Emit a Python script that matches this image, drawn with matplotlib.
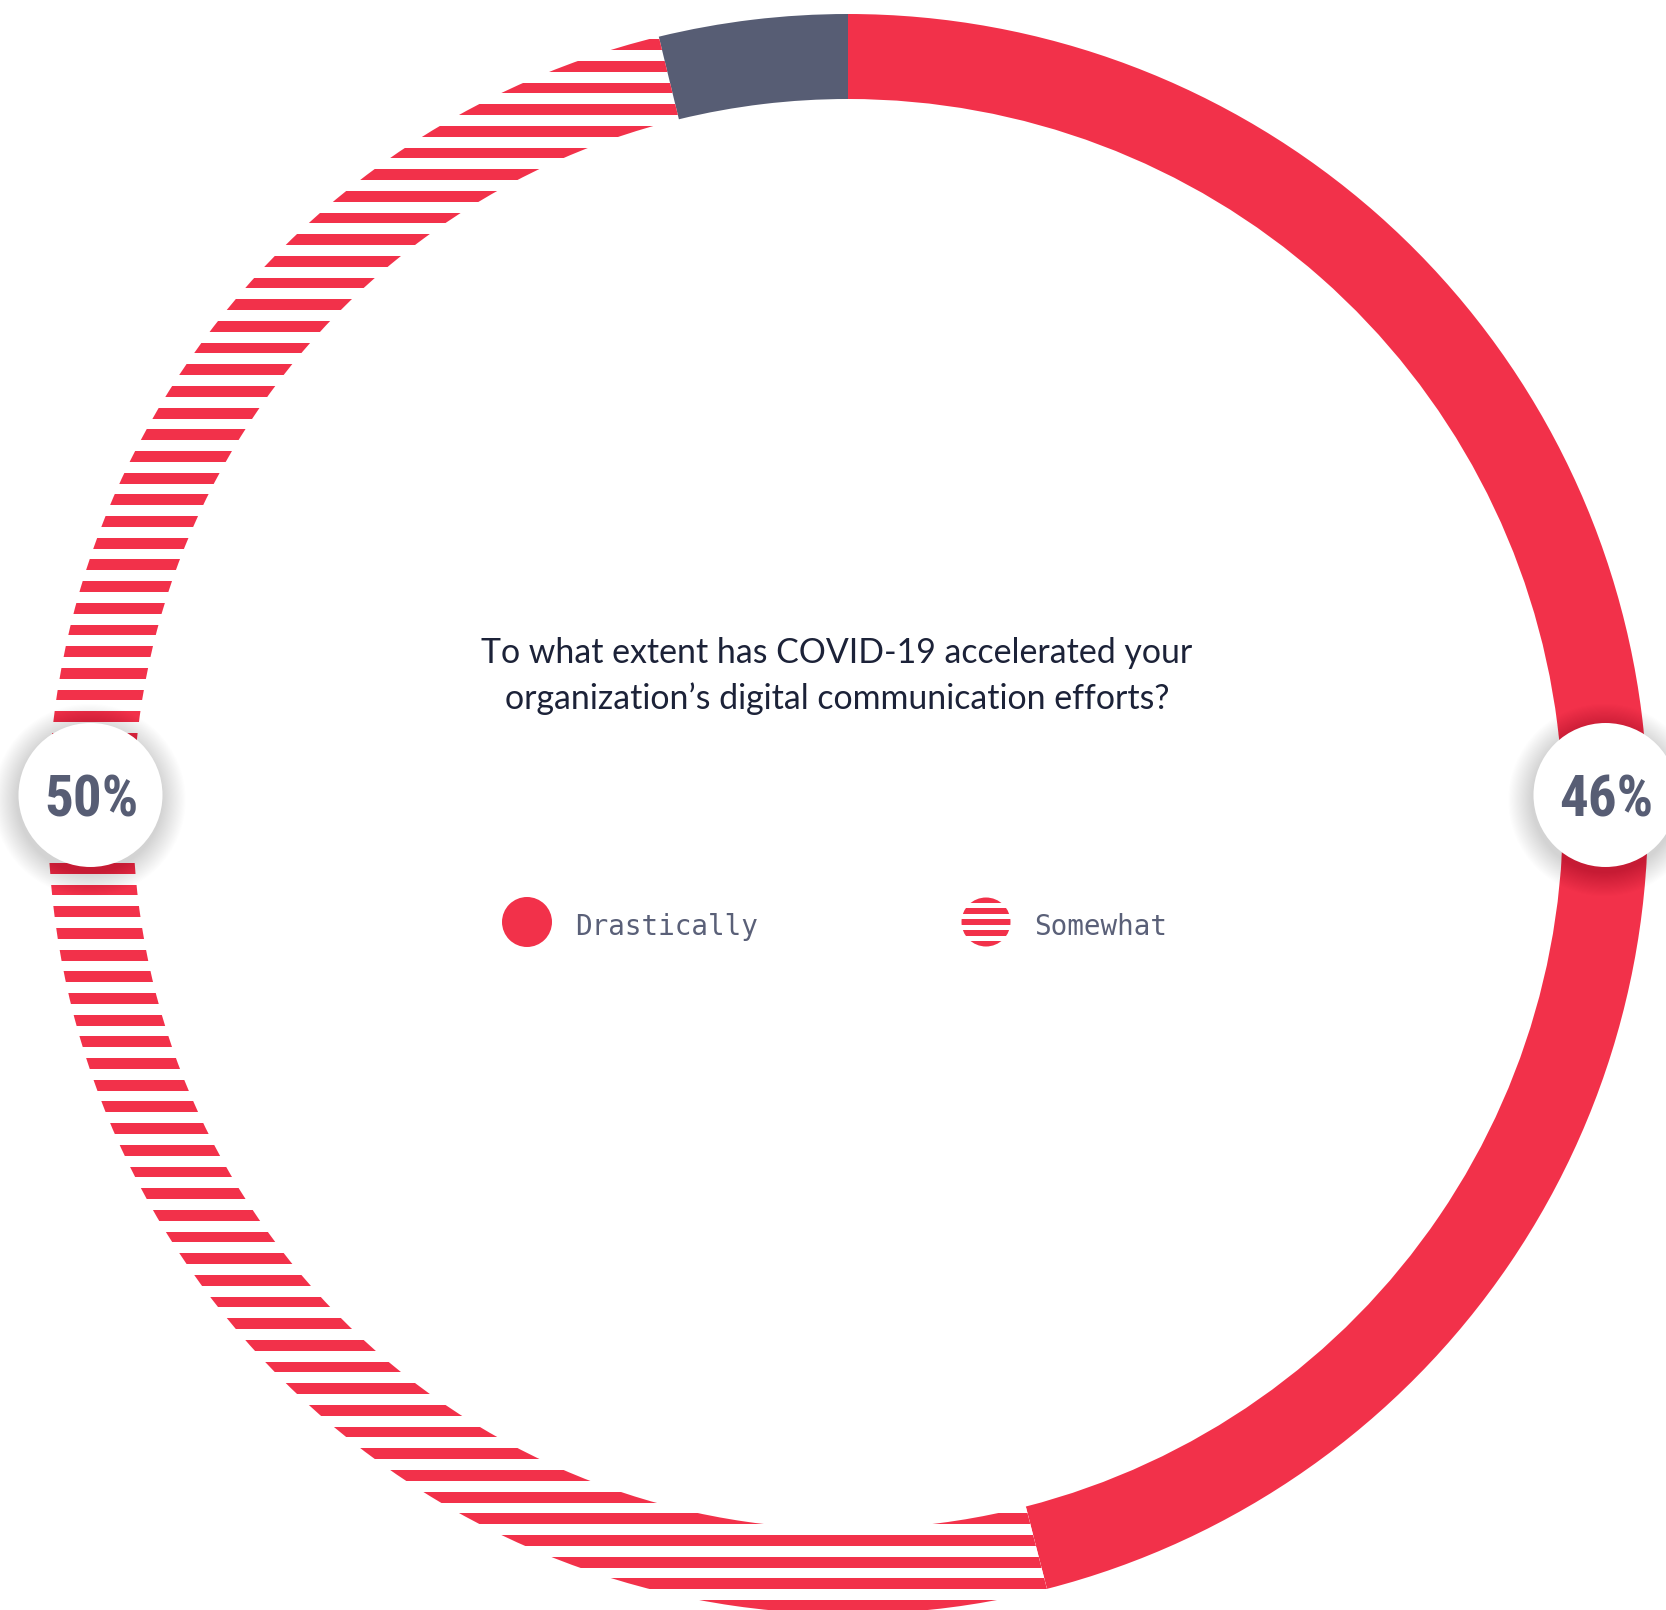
import numpy as np
import matplotlib
matplotlib.use("Agg")
import matplotlib.pyplot as plt
from matplotlib.patches import Circle, Rectangle
from matplotlib import font_manager as fm

# ---------------- data ----------------
categories = ["Drastically", "Somewhat", "Other"]
values = [46, 50.2, 3.8]
labeled = ["Drastically", "Somewhat"]
title = "To what extent has COVID-19 accelerated your\norganization\u2019s digital communication efforts?"

# ---------------- style ----------------
RED = "#f2314a"
SLATE = "#575d74"
TXT = "#1c2238"
LEG_TXT = "#5a6078"
W, H = 1666, 1610
CX, CY_IMG = 848, 814
R_OUT, RING_W = 800, 85
STRIPE_P, STRIPE_RED = 21.68, 10.8
STRIPE_Y0_IMG = 321.0


def Y(yimg):
    return H - yimg


def find_condensed():
    for fam in ["Roboto Condensed", "Liberation Sans Narrow", "DejaVu Sans Condensed"]:
        try:
            fm.findfont(fm.FontProperties(family=fam, weight="bold"), fallback_to_default=False)
            return dict(family=[fam], fontweight="bold"), 41
        except Exception:
            pass
    try:
        p = fm.findfont(fm.FontProperties(family="DejaVu Sans", weight="bold", stretch="condensed"))
        if "ondensed" in p:
            return dict(family=["DejaVu Sans"], fontweight="bold", fontstretch="condensed"), 40
    except Exception:
        pass
    return dict(family=["DejaVu Sans"], fontweight="bold"), 35


pct_font, pct_size = find_condensed()

fig = plt.figure(figsize=(W / 100, H / 100), dpi=100)
ax = fig.add_axes([0, 0, 1, 1])

colors = [RED, "white", SLATE]
wedges, _ = ax.pie(values, radius=R_OUT, center=(CX, Y(CY_IMG)), startangle=90,
                   counterclock=False, colors=colors,
                   wedgeprops=dict(width=RING_W, linewidth=0))

# stripes in the "Somewhat" wedge
some = wedges[categories.index("Somewhat")]
k = np.arange(-20, 80)
tops = STRIPE_Y0_IMG + k * STRIPE_P
for t in tops:
    rect = Rectangle((0, Y(t + STRIPE_RED)), W, STRIPE_RED, facecolor=RED,
                     edgecolor="none", zorder=2)
    ax.add_patch(rect)
    rect.set_clip_path(some)

# percentage badges
mid_r = R_OUT - RING_W / 2
badge_y = Y(795)
badge_r = 72
for cat, side in (("Somewhat", -1), ("Drastically", 1)):
    v = values[categories.index(cat)]
    bx = CX + side * mid_r
    for i in range(22, 0, -1):
        ax.add_patch(Circle((bx - 1, badge_y - 5), badge_r + i * 1.1,
                            facecolor="black", alpha=0.009, edgecolor="none", zorder=5))
    ax.add_patch(Circle((bx, badge_y), badge_r, facecolor="white", edgecolor="none", zorder=6))
    ax.text(bx + 1, badge_y, f"{v:.0f}%", ha="center", va="center_baseline", fontsize=pct_size,
            color=SLATE, zorder=7, **pct_font)

# title
ax.text(837, Y(676), title, ha="center", va="center", fontsize=24.4, family=["Lato", "DejaVu Sans"],
        color=TXT, linespacing=1.48, zorder=3)

# legend
leg_y = Y(922)
leg_x = [527, 986]
ax.add_patch(Circle((leg_x[0], leg_y), 25, facecolor=RED, edgecolor="none"))
mk = Circle((leg_x[1], leg_y), 24.5, facecolor="white", edgecolor="none")
ax.add_patch(mk)
for j in range(-3, 4):
    r = Rectangle((leg_x[1] - 30, leg_y + j * 11 - 2.75), 60, 5.5, facecolor=RED, edgecolor="none")
    ax.add_patch(r)
    r.set_clip_path(mk)
for lx, lab in zip(leg_x, labeled):
    ax.text(lx + 48, Y(935), lab, ha="left", va="baseline", fontsize=19.9,
            family=["DejaVu Sans Mono"], color=LEG_TXT)

ax.set_xlim(0, W)
ax.set_ylim(0, H)
ax.set_aspect("equal")
ax.axis("off")
fig.savefig("out.png", dpi=100, facecolor="white")
